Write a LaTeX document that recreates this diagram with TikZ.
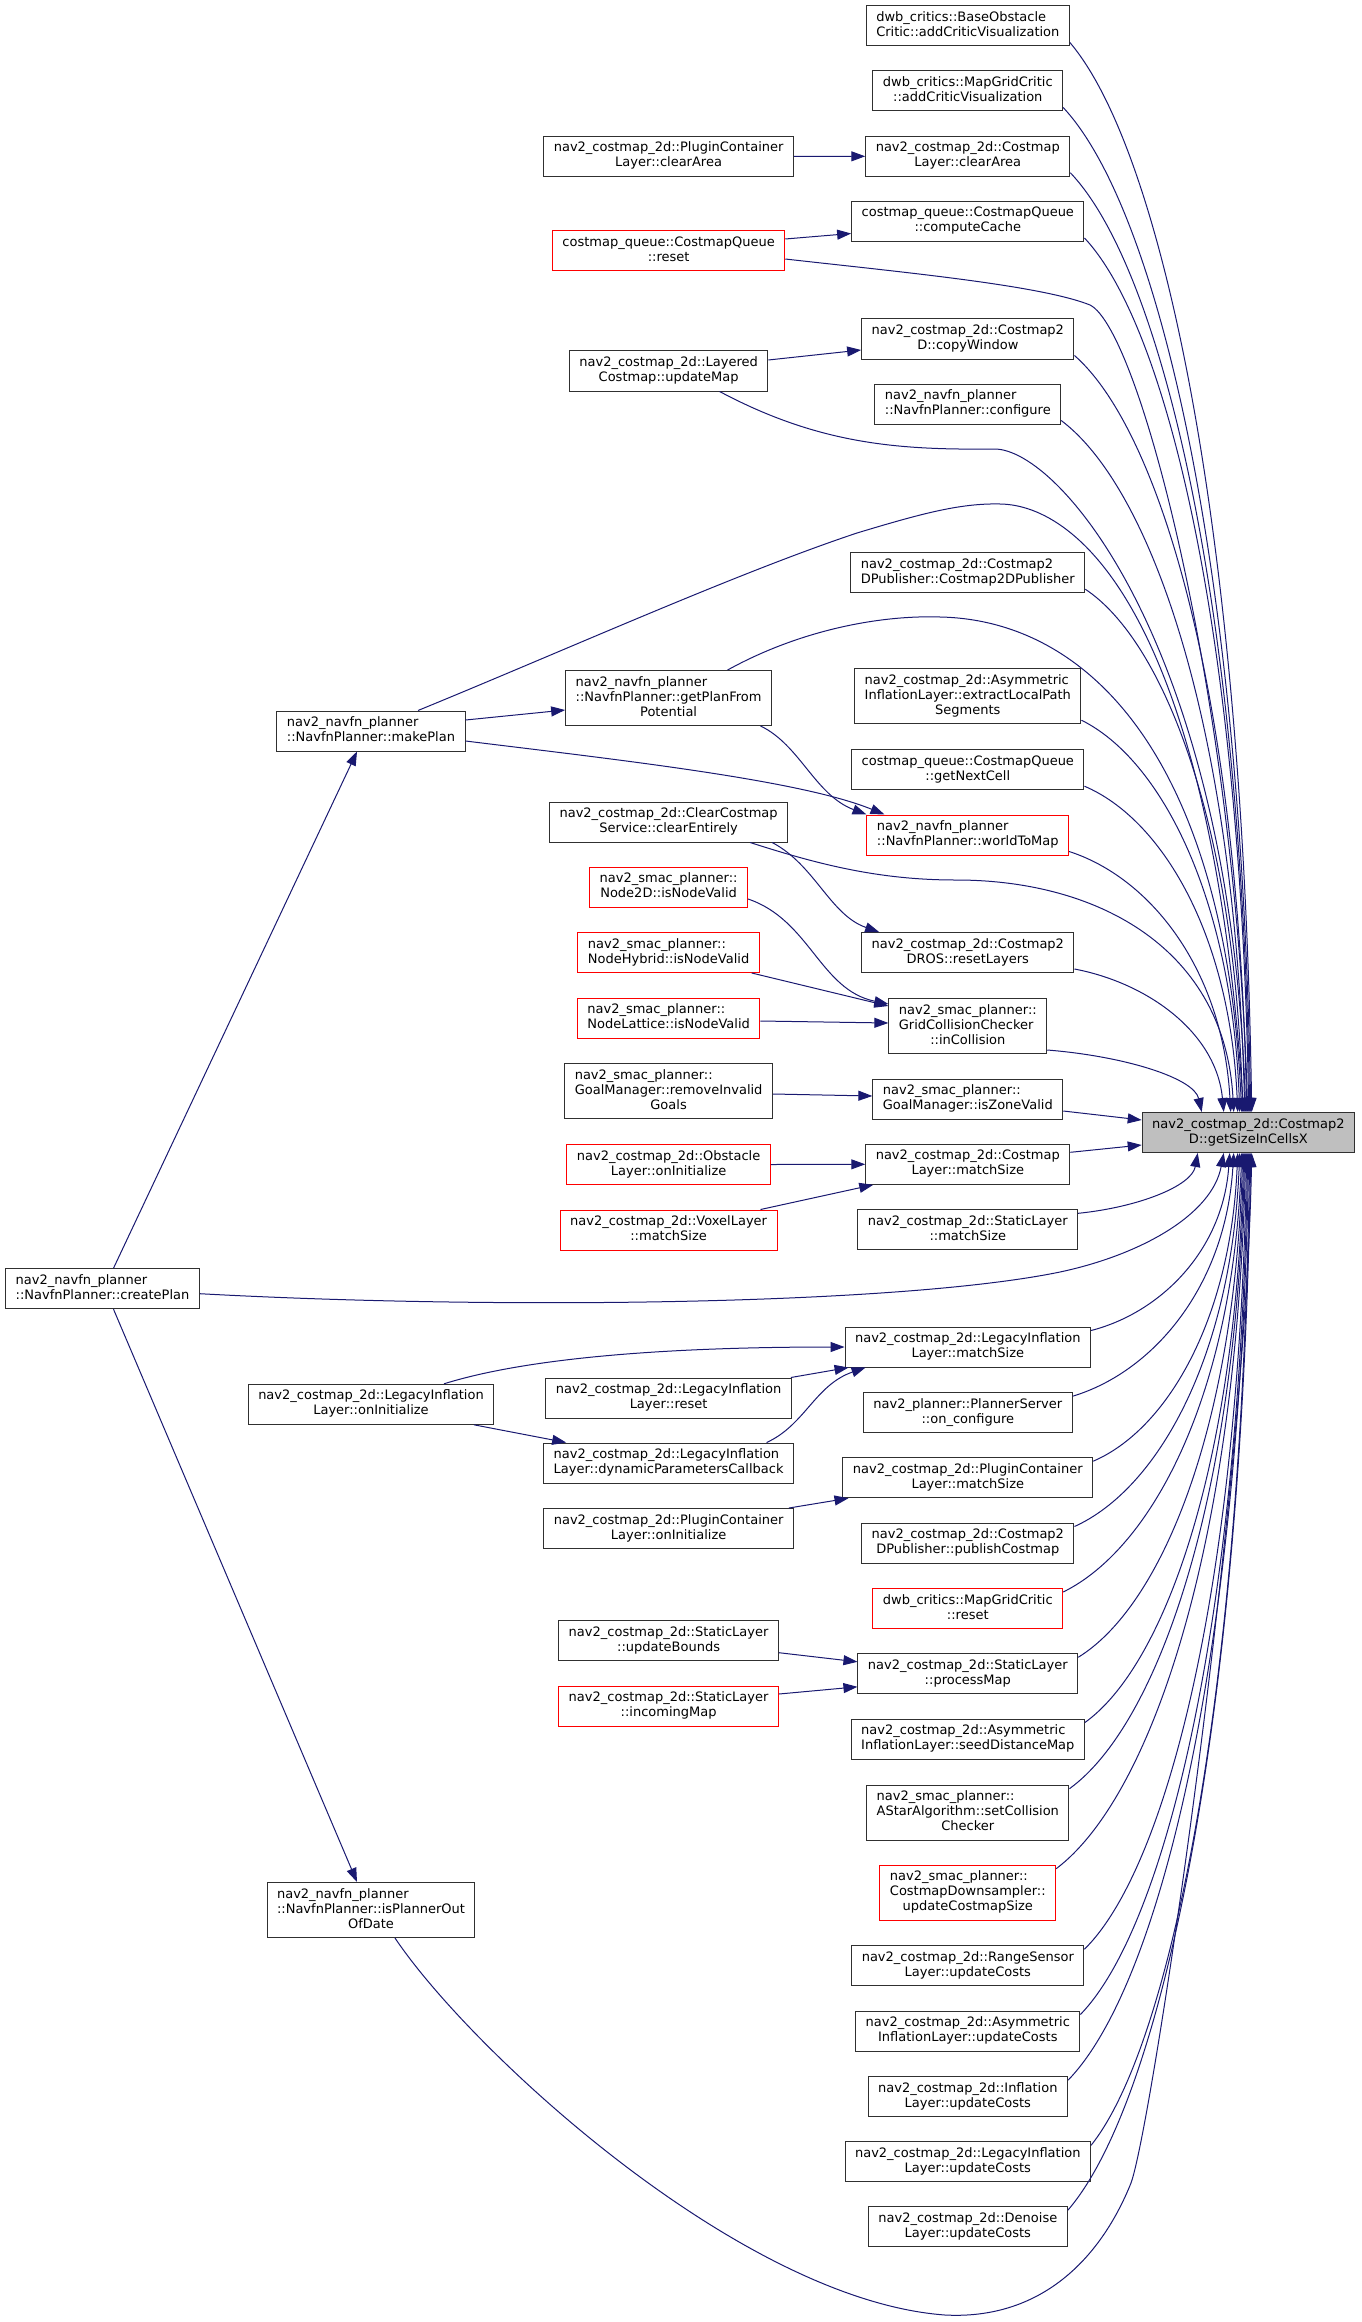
\documentclass[tikz,border=0pt]{standalone}
\usepackage{fontspec}
\setmainfont{DejaVu Sans}
\usepackage{tikz}
\usetikzlibrary{calc,arrows.meta}
\definecolor{edgeblue}{HTML}{191970}
\definecolor{boxred}{HTML}{FF0000}
\definecolor{boxgray}{HTML}{BFBFBF}
\definecolor{boxline}{HTML}{303030}
\newcommand\lbltwo[2]{\begin{tabular}{@{}l@{}}#1\\\multicolumn{1}{@{}c@{}}{#2}\end{tabular}}
\newcommand\lblthree[3]{\begin{tabular}{@{}l@{}}#1\\#2\\\multicolumn{1}{@{}c@{}}{#3}\end{tabular}}
\tikzset{
  fn/.style={draw=boxline, line width=0.75pt, fill=white, inner xsep=7.5pt, inner ysep=0pt,
    minimum height=30pt, font=\fontsize{9.75}{11.25}\selectfont},
  fnthree/.style={fn, minimum height=41.25pt},
  fnred/.style={draw=boxred},
  fnmain/.style={fill=boxgray},
  callline/.style={draw=edgeblue, line width=0.75pt, -{Triangle[length=10.5pt,width=7.5pt]}}
}
% caller above / below the target: spline into the top or bottom of the target box
\newcommand\calltop[2]{\draw[callline] let \p1=($(#1.south east)+(0,-4)$), \p2=($(main.north west)+(#2,0)$) in
  (\p1) .. controls ({\x1+0.5*(\x2-\x1)},{\y1+0.1*(\y2-\y1)}) and ({\x2-0.05*(\x2-\x1)},{\y2-0.55*(\y2-\y1)}) .. (\p2);}
\newcommand\callbot[2]{\draw[callline] let \p1=($(#1.north east)+(0,4)$), \p2=($(main.south west)+(#2,0)$) in
  (\p1) .. controls ({\x1+0.5*(\x2-\x1)},{\y1+0.1*(\y2-\y1)}) and ({\x2-0.05*(\x2-\x1)},{\y2-0.55*(\y2-\y1)}) .. (\p2);}

\begin{document}
\begin{tikzpicture}[x=0.75pt,y=-0.75pt]
  \useasboundingbox (0,0) rectangle (1361,2322);

  % target
  \node[fn,fnmain] (main) at (1248.4,1132.5) {\lbltwo{nav2\_costmap\_2d::Costmap2}{D::getSizeInCellsX}};

  % direct callers
  \node[fn] (bo)   at (967.8,26)     {\lbltwo{dwb\_critics::BaseObstacle}{Critic::addCriticVisualization}};
  \node[fn] (mgc)  at (967.8,91)     {\lbltwo{dwb\_critics::MapGridCritic}{::addCriticVisualization}};
  \node[fn] (clca) at (967.8,156.3)  {\lbltwo{nav2\_costmap\_2d::Costmap}{Layer::clearArea}};
  \node[fn] (cc)   at (967.8,221.5)  {\lbltwo{costmap\_queue::CostmapQueue}{::computeCache}};
  \node[fn] (cw)   at (967.8,339)    {\lbltwo{nav2\_costmap\_2d::Costmap2}{D::copyWindow}};
  \node[fn] (cfg)  at (967.8,404)    {\lbltwo{nav2\_navfn\_planner}{::NavfnPlanner::configure}};
  \node[fn] (pub)  at (967.8,572.7)  {\lbltwo{nav2\_costmap\_2d::Costmap2}{DPublisher::Costmap2DPublisher}};
  \node[fnthree] (elp) at (967.8,696.2) {\lblthree{nav2\_costmap\_2d::Asymmetric}{InflationLayer::extractLocalPath}{Segments}};
  \node[fn] (gnc)  at (967.8,769.7)  {\lbltwo{costmap\_queue::CostmapQueue}{::getNextCell}};
  \node[fn,fnred] (w2m) at (967.8,835) {\lbltwo{nav2\_navfn\_planner}{::NavfnPlanner::worldToMap}};
  \node[fn] (rl)   at (967.8,952.5)  {\lbltwo{nav2\_costmap\_2d::Costmap2}{DROS::resetLayers}};
  \node[fnthree] (inc) at (967.8,1026) {\lblthree{nav2\_smac\_planner::}{GridCollisionChecker}{::inCollision}};
  \node[fn] (izv)  at (967.8,1099)   {\lbltwo{nav2\_smac\_planner::}{GoalManager::isZoneValid}};
  \node[fn] (clms) at (967.8,1164.3) {\lbltwo{nav2\_costmap\_2d::Costmap}{Layer::matchSize}};
  \node[fn] (slms) at (967.8,1229.8) {\lbltwo{nav2\_costmap\_2d::StaticLayer}{::matchSize}};
  \node[fn] (lims) at (967.8,1347)   {\lbltwo{nav2\_costmap\_2d::LegacyInflation}{Layer::matchSize}};
  \node[fn] (onc)  at (967.8,1412.7) {\lbltwo{nav2\_planner::PlannerServer}{::on\_configure}};
  \node[fn] (pcms) at (967.8,1477.7) {\lbltwo{nav2\_costmap\_2d::PluginContainer}{Layer::matchSize}};
  \node[fn] (pcm)  at (967.8,1543)   {\lbltwo{nav2\_costmap\_2d::Costmap2}{DPublisher::publishCostmap}};
  \node[fn,fnred] (mgr) at (967.8,1608.5) {\lbltwo{dwb\_critics::MapGridCritic}{::reset}};
  \node[fn] (pm)   at (967.8,1673.8) {\lbltwo{nav2\_costmap\_2d::StaticLayer}{::processMap}};
  \node[fn] (sdm)  at (967.8,1739)   {\lbltwo{nav2\_costmap\_2d::Asymmetric}{InflationLayer::seedDistanceMap}};
  \node[fnthree] (scc) at (967.8,1812.7) {\lblthree{nav2\_smac\_planner::}{AStarAlgorithm::setCollision}{Checker}};
  \node[fnthree,fnred] (ucs) at (967.8,1892.7) {\lblthree{nav2\_smac\_planner::}{CostmapDownsampler::}{updateCostmapSize}};
  \node[fn] (rsuc) at (967.8,1965.8) {\lbltwo{nav2\_costmap\_2d::RangeSensor}{Layer::updateCosts}};
  \node[fn] (aiuc) at (967.8,2031)   {\lbltwo{nav2\_costmap\_2d::Asymmetric}{InflationLayer::updateCosts}};
  \node[fn] (iuc)  at (967.8,2096.7) {\lbltwo{nav2\_costmap\_2d::Inflation}{Layer::updateCosts}};
  \node[fn] (liuc) at (967.8,2161.8) {\lbltwo{nav2\_costmap\_2d::LegacyInflation}{Layer::updateCosts}};
  \node[fn] (dnuc) at (967.8,2226.8) {\lbltwo{nav2\_costmap\_2d::Denoise}{Layer::updateCosts}};

  % second level
  \node[fn] (pcca) at (668.6,156.5)  {\lbltwo{nav2\_costmap\_2d::PluginContainer}{Layer::clearArea}};
  \node[fn,fnred] (cqr) at (668.6,251) {\lbltwo{costmap\_queue::CostmapQueue}{::reset}};
  \node[fn] (lcum) at (668.6,371)    {\lbltwo{nav2\_costmap\_2d::Layered}{Costmap::updateMap}};
  \node[fnthree] (gpp) at (668.6,698) {\lblthree{nav2\_navfn\_planner}{::NavfnPlanner::getPlanFrom}{Potential}};
  \node[fn] (cce)  at (668.6,822)    {\lbltwo{nav2\_costmap\_2d::ClearCostmap}{Service::clearEntirely}};
  \node[fn,fnred] (n2d) at (668.6,887)  {\lbltwo{nav2\_smac\_planner::}{Node2D::isNodeValid}};
  \node[fn,fnred] (nhy) at (668.6,952.5) {\lbltwo{nav2\_smac\_planner::}{NodeHybrid::isNodeValid}};
  \node[fn,fnred] (nla) at (668.6,1018) {\lbltwo{nav2\_smac\_planner::}{NodeLattice::isNodeValid}};
  \node[fnthree] (rig) at (668.6,1091) {\lblthree{nav2\_smac\_planner::}{GoalManager::removeInvalid}{Goals}};
  \node[fn,fnred] (olo) at (668.6,1164.5) {\lbltwo{nav2\_costmap\_2d::Obstacle}{Layer::onInitialize}};
  \node[fn,fnred] (vlms) at (668.6,1230) {\lbltwo{nav2\_costmap\_2d::VoxelLayer}{::matchSize}};
  \node[fn] (lir)  at (668.6,1398)   {\lbltwo{nav2\_costmap\_2d::LegacyInflation}{Layer::reset}};
  \node[fn] (lidp) at (668.6,1463)   {\lbltwo{nav2\_costmap\_2d::LegacyInflation}{Layer::dynamicParametersCallback}};
  \node[fn] (pcoi) at (668.6,1528.5) {\lbltwo{nav2\_costmap\_2d::PluginContainer}{Layer::onInitialize}};
  \node[fn] (slub) at (668.6,1640.7) {\lbltwo{nav2\_costmap\_2d::StaticLayer}{::updateBounds}};
  \node[fn,fnred] (slim) at (668.6,1706) {\lbltwo{nav2\_costmap\_2d::StaticLayer}{::incomingMap}};

  % third and fourth level
  \node[fn] (mp)   at (371,731)      {\lbltwo{nav2\_navfn\_planner}{::NavfnPlanner::makePlan}};
  \node[fn] (lioi) at (371,1404.3)   {\lbltwo{nav2\_costmap\_2d::LegacyInflation}{Layer::onInitialize}};
  \node[fnthree] (ipo) at (371,1910) {\lblthree{nav2\_navfn\_planner}{::NavfnPlanner::isPlannerOut}{OfDate}};
  \node[fn] (cp)   at (102.5,1288.7) {\lbltwo{nav2\_navfn\_planner}{::NavfnPlanner::createPlan}};

  % calls into the target
  \foreach \src/\dx in {bo/110, mgc/109, clca/108, cc/107, cw/105, cfg/103, pub/101, elp/98, gnc/96, w2m/89, rl/82, inc/60}
    \calltop{\src}{\dx};
  \foreach \src/\dx in {slms/56, lims/88, onc/92, pcms/96, pcm/98, mgr/100, pm/101, sdm/102, scc/103, ucs/104,
                      rsuc/105, aiuc/106, iuc/107, liuc/108, dnuc/109}
    \callbot{\src}{\dx};
  \draw[callline] ($(izv.east)+(0,12)$) -- ($(main.west)+(0,-12.5)$);
  \draw[callline] ($(clms.east)+(0,-12)$) -- ($(main.west)+(0,12.5)$);

  % long calls into the target
  \draw[callline] ($(cqr.east)+(0,8)$) .. controls (900,272) and (1040,285) .. (1090,305)
    .. controls (1140,330) and (1235,700) .. ($(main.north west)+(106,0)$);
  \draw[callline] ($(lcum.south)+(51,0)$) .. controls (820,445) and (900,450) .. (994,449)
    .. controls (1060,448) and (1230,650) .. ($(main.north west)+(104,0)$);
  \draw[callline] ($(mp.north)+(47,0)$) .. controls (568,649) and (737,573) .. (857,533)
    .. controls (920,514) and (960,503) .. (1000,504)
    .. controls (1080,505) and (1210,620) .. ($(main.north west)+(102,0)$);
  \draw[callline] ($(gpp.north)+(59,0)$) .. controls (800,630) and (880,615) .. (940,617)
    .. controls (1090,620) and (1225,760) .. ($(main.north west)+(100,0)$);
  \draw[callline] ($(cce.south east)+(-38,0)$) .. controls (820,865) and (880,880) .. (956,880)
    .. controls (1100,880) and (1225,950) .. ($(main.north west)+(92,0)$);
  \draw[callline] ($(cp.east)+(0,5)$) .. controls (500,1310) and (900,1305) .. (1060,1272)
    .. controls (1140,1255) and (1212,1215) .. ($(main.south west)+(82,0)$);
  \draw[callline] ($(ipo.south)+(24,0)$) .. controls (470,2050) and (740,2300) .. (945,2315)
    .. controls (1040,2320) and (1100,2260) .. (1131,2183)
    .. controls (1152,2125) and (1245,1500) .. ($(main.south west)+(110,0)$);

  % calls between callers
  \draw[callline] (pcca.east) -- (clca.west);
  \draw[callline] ($(cqr.east)+(0,-12)$) -- ($(cc.west)+(0,12)$);
  \draw[callline] ($(lcum.east)+(0,-11)$) -- ($(cw.west)+(0,11)$);
  \draw[callline] ($(mp.east)+(0,-11)$) -- ($(gpp.west)+(0,12)$);
  \draw[callline] ($(mp.east)+(0,10)$) .. controls (620,760) and (800,780) .. ($(w2m.north west)+(18,0)$);
  \draw[callline] ($(gpp.south)+(92,0)$) .. controls (800,745) and (815,795) .. (w2m.north west);
  \draw[callline] ($(cce.south east)+(-16,0)$) .. controls (815,865) and (830,915) .. ($(rl.north west)+(18,0)$);
  \draw[callline] ($(n2d.east)+(0,12)$) .. controls (810,920) and (820,990) .. ($(inc.west)+(0,-22)$);
  \draw[callline] ($(nhy.south east)+(-8,0)$) -- ($(inc.west)+(0,-20)$);
  \draw[callline] ($(nla.east)+(0,3)$) -- ($(inc.west)+(0,-3)$);
  \draw[callline] ($(rig.east)+(0,3)$) -- ($(izv.west)+(0,-3)$);
  \draw[callline] (olo.east) -- (clms.west);
  \draw[callline] ($(vlms.north east)+(-17,0)$) -- ($(clms.south west)+(8,0)$);
  \draw[callline] ($(cp.north)+(11,0)$) -- ($(mp.south)+(-14,0)$);
  \draw[callline] ($(cp.south)+(11,0)$) -- ($(ipo.north)+(-14,0)$);
  \draw[callline] ($(lioi.north)+(73,0)$) .. controls (520,1360) and (650,1347) .. (lims.west);
  \draw[callline] ($(lioi.south)+(103,0)$) -- ($(lidp.north west)+(23,0)$);
  \draw[callline] ($(lir.north east)+(-1,0)$) -- ($(lims.south west)+(4,0)$);
  \draw[callline] ($(lidp.north)+(98,0)$) .. controls (805,1425) and (815,1385) .. ($(lims.south west)+(21,0)$);
  \draw[callline] ($(pcoi.north east)+(-5,0)$) -- ($(pcms.south west)+(6,0)$);
  \draw[callline] ($(slub.east)+(0,12)$) -- ($(pm.west)+(0,-12)$);
  \draw[callline] ($(slim.east)+(0,-12)$) -- ($(pm.west)+(0,13)$);
\end{tikzpicture}
\end{document}
